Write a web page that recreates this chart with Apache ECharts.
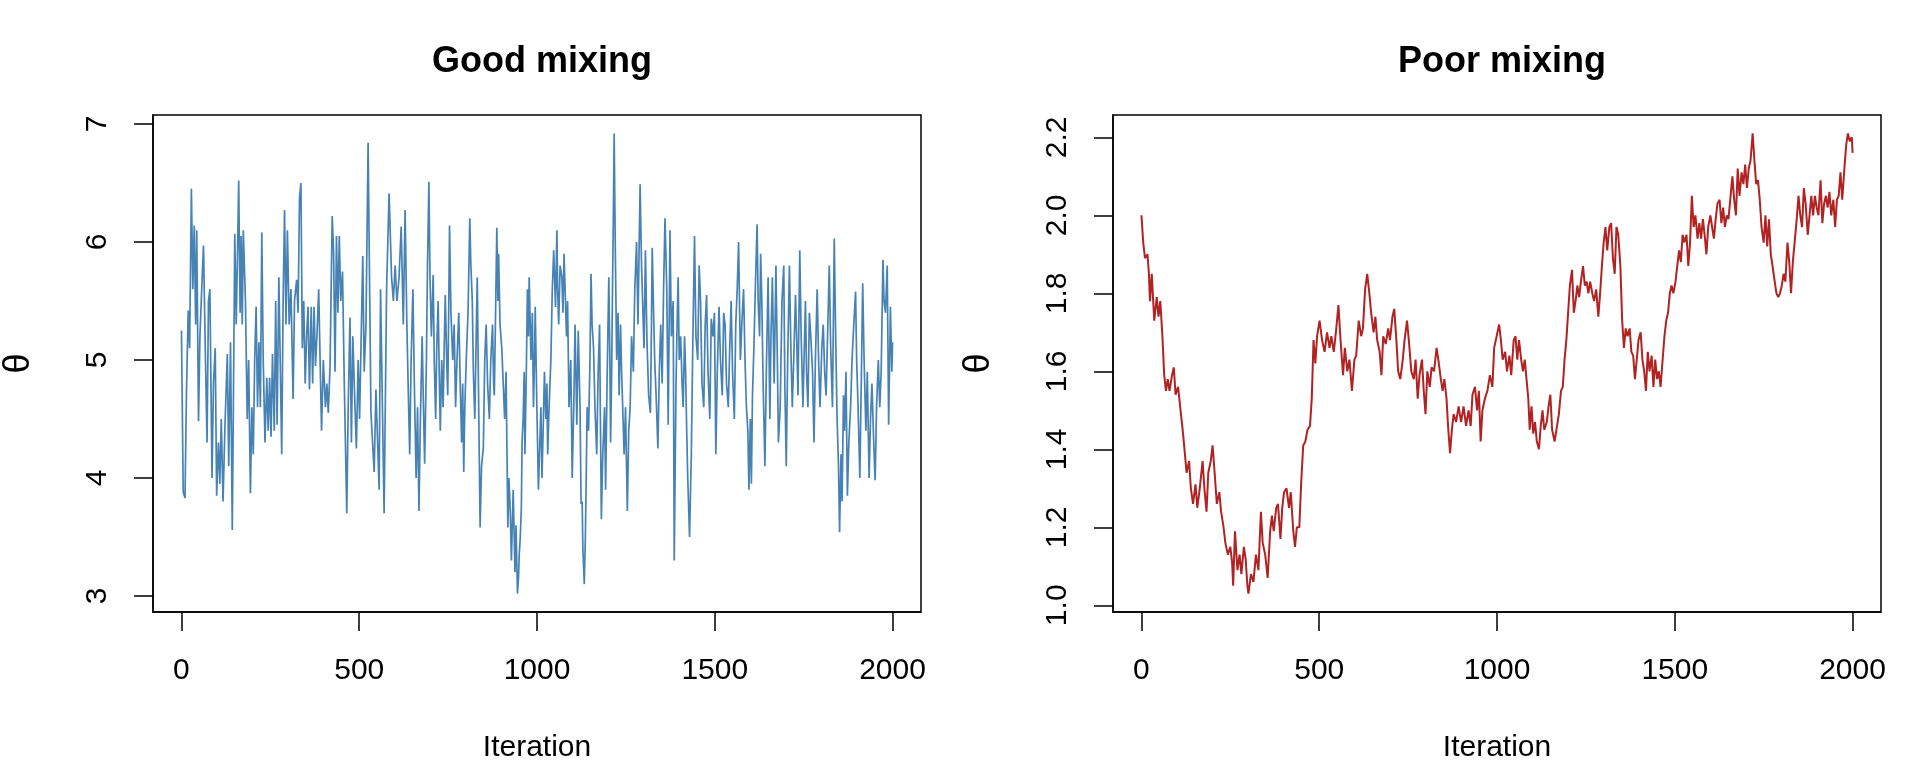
<!DOCTYPE html>
<html>
<head>
<meta charset="utf-8">
<script src="https://cdn.jsdelivr.net/npm/echarts@6/dist/echarts.min.js"></script>
<style>
html,body{margin:0;padding:0;background:#fff;}
#chart{width:1920px;height:768px;}
</style>
</head>
<body>
<div id="chart"></div>
<script>
// ---- Data ----
const panelTitles = ['Good mixing', 'Poor mixing'];
const xAxisTitle = 'Iteration';
const yAxisTitle = 'θ';
const xTicks = [0, 500, 1000, 1500, 2000];
const goodYTicks = [3, 4, 5, 6, 7];
const poorYTicks = [1.0, 1.2, 1.4, 1.6, 1.8, 2.0, 2.2];

const goodIter = [0,5,10,14,19,23,28,32,36,40,43,48,52,57,62,67,72,76,80,86,90,95,99,104,108,112,117,122,129,133,138,143,146,150,154,158,161,165,168,171,174,180,185,189,194,198,202,206,210,214,218,222,226,230,235,240,244,248,252,256,261,265,269,274,282,286,290,294,298,303,308,314,318,324,328,332,336,340,344,348,352,356,360,365,369,373,377,381,386,394,399,405,409,413,418,424,428,432,436,440,444,448,453,458,465,469,474,478,482,487,492,497,501,510,514,519,525,530,533,542,547,556,560,565,570,577,584,591,596,601,606,612,618,624,629,634,
639,642,646,651,655,660,664,668,672,677,680,684,689,692,696,699,703,708,711,715,718,722,725,728,732,736,739,742,746,749,752,754,758,763,767,771,775,780,784,788,791,794,797,801,806,811,814,818,821,825,829,832,836,840,844,849,853,857,861,866,870,875,878,880,884,887,890,892,896,901,905,909,913,918,921,925,928,933,938,941,945,948,950,953,956,958,961,964,966,970,973,976,978,981,983,987,990,993,995,999,1004,1008,1011,1014,1018,1021,1025,1028,1030,1034,1039,1043,1047,1052,1056,1058,1061,1065,1070,1073,1076,1080,1083,1086,1090,1095,1099,1104,1107,1112,1116,1121,1124,1127,1129,1133,1136,1138,1141,1145,1149,1152,1155,1159,1163,1168,1172,1176,1178,1181,1185,1190,1193,1197,1202,1205,1207,1210,1212,1215,1217,1220,1224,1228,1231,1235,1238,1242,1245,1249,1254,1258,1262,1266,1271,1275,1280,1284,1287,1290,1294,1297,1301,1305,1309,1314,1319,1322,1324,1328,1331,1335,1340,1344,1348,1352,1356,1360,1365,1369,1372,1374,1378,1383,1386,1391,1394,1397,1400,1404,1408,1411,1415,1418,1421,1424,1429,1434,1438,
1443,1447,1452,1456,1460,1464,1469,1473,1477,1481,1486,1490,1495,1499,1503,1507,1512,1516,1521,1525,1529,1533,1538,1542,1546,1550,1555,1559,1563,1567,1572,1576,1581,1585,1589,1593,1596,1600,1603,1606,1610,1614,1619,1622,1626,1629,1632,1636,1641,1645,1650,1655,1658,1662,1667,1672,1676,1679,1684,1689,1694,1697,1701,1705,1710,1714,1718,1722,1727,1731,1734,1739,1743,1748,1751,1755,1758,1762,1766,1770,1775,1779,1783,1788,1792,1796,1801,1805,1809,1813,1818,1822,1826,1831,1836,1840,1844,1848,1851,1855,1858,1862,1865,1869,1873,1877,1882,1886,1891,1896,1899,1903,1908,1912,1916,1920,1925,1929,1934,1938,1942,1947,1951,1955,1960,1964,1968,1973,1976,1980,1985,1989,1994,1998,2000];
const goodTheta = [5.25,3.88,3.83,4.7,5.42,5.1,6.45,5.6,6.14,5.3,6.1,4.48,5.2,5.6,5.97,5.1,4.3,5.5,5.6,4.0,4.8,5.1,3.85,4.3,3.95,4.5,3.8,4.4,5.05,4.1,5.15,3.56,4.6,6.07,5.3,5.95,6.52,5.4,6.05,5.3,6.1,5.5,4.5,5.0,3.87,4.6,4.2,5.0,5.45,4.6,5.15,4.6,6.08,5.0,4.3,4.85,4.4,4.85,4.35,5.05,4.4,5.5,4.45,5.7,4.2,5.5,6.27,5.3,6.1,5.3,5.6,4.67,5.5,5.68,5.4,6.37,6.5,5.1,5.5,4.8,5.2,5.45,4.75,5.45,4.8,5.45,4.95,5.2,5.6,4.4,5.0,4.6,4.8,4.55,4.95,6.22,5.9,4.9,6.05,5.4,6.05,5.5,5.75,4.8,3.7,4.6,5.36,4.3,5.2,4.7,4.25,5.0,4.5,5.88,4.9,5.3,6.84,5.4,4.55,4.05,4.75,3.9,5.6,5.6,3.7,5.6,6.41,5.7,5.5,5.8,5.5,5.7,6.13,5.3,6.27,5.3,
4.6,4.2,5.0,5.6,4.8,4.0,4.6,3.72,4.5,5.2,4.7,4.12,5.0,5.8,6.51,5.7,5.2,5.72,5.0,4.5,5.1,5.5,4.9,4.4,5.0,4.6,5.1,5.55,5.0,4.7,5.5,6.14,5.4,5.0,5.3,4.6,5.0,5.4,4.8,4.3,4.8,4.05,4.6,5.0,5.4,6.2,5.8,5.5,4.9,4.5,5.2,5.7,4.6,3.58,4.1,4.25,5.0,5.3,4.8,4.5,5.0,5.3,4.8,4.7,5.5,6.12,5.5,5.9,5.3,5.1,4.8,4.5,4.9,3.58,4.0,3.7,3.3,3.9,3.2,3.6,3.02,3.15,3.35,3.5,3.75,4.3,4.5,4.9,4.2,4.9,5.6,5.2,5.7,5.3,5.0,5.4,4.6,5.0,5.45,4.7,3.9,4.3,4.6,4.0,4.5,4.9,4.5,4.8,4.2,4.6,5.0,5.6,5.93,5.45,6.1,5.6,5.3,5.8,5.7,5.4,5.9,5.5,5.2,5.5,4.6,5.0,4.0,4.7,5.3,4.45,5.25,4.6,3.78,3.8,3.4,3.1,3.5,3.9,4.6,4.4,5.0,5.73,5.3,5.1,4.6,4.2,4.9,5.3,4.6,3.65,4.2,4.6,3.9,4.8,5.7,5.0,4.3,4.9,5.5,6.3,6.92,6.0,5.0,5.4,4.7,5.3,4.9,4.5,4.2,4.6,3.72,4.4,4.6,5.2,4.9,5.6,6.0,5.3,5.9,6.49,5.8,5.5,5.1,5.93,5.2,4.7,4.55,5.3,5.95,5.4,5.0,4.7,4.25,4.9,5.3,4.8,5.6,6.2,5.6,4.45,5.4,6.1,5.2,5.5,3.3,4.8,5.3,5.7,5.0,5.2,4.8,4.6,5.2,4.9,4.4,4.0,3.5,4.2,5.1,
6.05,5.2,5.0,5.8,5.5,4.8,4.6,5.3,5.55,4.9,4.5,5.35,5.2,5.4,4.2,4.9,5.45,5.0,4.7,5.4,5.3,4.8,4.6,5.1,5.5,4.9,4.5,5.3,5.6,6.0,5.0,5.3,5.6,5.0,4.6,4.4,3.9,4.5,3.95,4.7,5.1,5.6,6.15,5.5,5.2,5.9,5.55,4.8,4.1,4.9,5.7,4.5,5.2,5.7,4.8,5.8,5.0,4.3,4.6,5.5,5.8,4.8,4.1,5.0,5.8,5.1,4.6,5.0,5.55,5.1,4.7,5.93,5.2,4.6,5.0,5.5,4.9,4.6,5.4,5.2,4.9,4.3,5.0,5.6,5.0,4.6,5.1,5.3,4.9,4.7,5.3,5.8,5.1,4.6,6.03,5.2,4.5,4.1,3.54,4.2,3.8,4.7,4.4,4.9,3.85,4.3,4.6,5.0,5.3,5.58,5.0,4.6,4.0,4.8,5.65,5.0,4.4,4.9,4.0,4.5,4.8,4.3,3.98,4.6,5.0,4.6,4.9,5.85,5.5,5.4,5.8,4.45,5.45,4.9,5.15];

const poorIter = [0,5,10,17,21,24,29,36,43,48,53,59,64,69,74,79,86,91,96,103,110,117,122,127,134,139,145,152,157,164,172,177,183,188,195,200,205,212,219,224,231,236,243,250,255,258,263,270,276,281,288,293,298,301,308,315,322,329,336,341,348,355,362,367,372,379,384,391,396,401,408,415,420,427,432,437,444,449,455,461,467,474,479,484,489,494,501,508,515,522,529,534,541,548,554,560,567,572,579,585,592,599,604,611,618,623,629,635,641,646,653,658,663,670,675,680,687,694,699,706,711,717,722,728,735,740,747,752,759,766,771,777,782,789,794,799,804,811,816,823,830,835,842,847,852,858,863,868,873,878,885,892,899,906,913,920,926,931,938,944,949,954,959,966,973,980,987,992,999,1006,1011,1016,1023,1028,1035,1040,1047,1052,1057,1062,1068,1073,1078,1083,1088,1092,1097,1102,1107,1112,1118,1123,1128,1133,1140,1145,1150,1155,1162,1167,1174,1180,1185,1190,1195,1200,1205,1211,1216,1221,1226,1231,1236,1242,1247,1252,1257,1262,1268,1273,1279,1285,1290,1295,1300,1305,1310,1316,1321,1326,1331,1336,1341,1347,1352,1357,1362,1367,1373,1378,1383,1388,1393,1398,1404,1409,1414,1419,1424,1429,1435,1440,1445,1450,1455,1460,1465,1471,1476,1481,1486,1491,1496,1502,1507,1512,1517,1522,1527,1533,1538,1543,1548,1553,1558,1564,1569,1574,1579,1584,1589,1594,1600,1605,1610,1615,1620,1626,1631,1636,1641,1646,1651,1657,1662,1667,1672,1677,1682,1688,1693,1698,1703,1708,1713,1719,1724,1729,1734,1739,1744,1750,1755,1760,1765,1770,1775,1781,1786,1791,1796,1801,1806,1811,1817,1822,1827,1832,1837,1842,1848,1853,1858,1863,1868,1874,1879,1884,1889,1894,1899,1904,1910,1915,1920,1925,1930,1935,1940,1946,1951,1956,1961,1966,1971,1977,1982,1987,1992,1998,2000];
const poorTheta = [2.00,1.93,1.89,1.90,1.85,1.78,1.85,1.73,1.79,1.74,1.78,1.69,1.59,1.55,1.58,1.55,1.59,1.61,1.54,1.56,1.50,1.44,1.39,1.34,1.37,1.30,1.26,1.31,1.25,1.30,1.37,1.30,1.24,1.34,1.37,1.41,1.35,1.26,1.29,1.24,1.20,1.16,1.13,1.15,1.11,1.05,1.19,1.09,1.13,1.08,1.15,1.12,1.05,1.03,1.08,1.06,1.13,1.09,1.24,1.16,1.13,1.07,1.19,1.23,1.19,1.25,1.26,1.17,1.25,1.29,1.30,1.25,1.29,1.19,1.15,1.20,1.20,1.31,1.41,1.42,1.45,1.46,1.53,1.68,1.62,1.69,1.73,1.68,1.65,1.70,1.66,1.69,1.65,1.71,1.77,1.68,1.59,1.66,1.60,1.63,1.55,1.63,1.64,1.73,1.69,1.71,1.81,1.85,1.80,1.75,1.70,1.74,1.68,1.65,1.59,1.69,1.67,1.71,1.68,1.74,1.76,1.68,1.60,1.58,1.63,1.68,1.73,1.68,1.60,1.58,1.63,1.53,1.59,1.63,1.55,1.49,1.60,1.56,1.61,1.60,1.66,1.63,1.58,1.55,1.58,1.53,1.45,1.39,1.45,1.49,1.47,1.51,1.47,1.51,1.46,1.50,1.46,1.54,1.56,1.50,1.55,1.42,1.50,1.53,1.55,1.59,1.56,1.66,1.69,1.72,1.68,1.63,1.65,1.60,1.64,1.59,1.68,1.69,1.63,1.68,1.63,1.60,1.63,1.58,1.53,1.45,1.51,1.44,1.47,1.42,1.40,1.46,1.50,1.45,1.47,1.51,1.54,1.45,1.42,1.45,1.49,1.55,1.56,1.63,1.68,1.75,1.82,1.86,1.75,1.78,1.82,1.79,1.83,1.87,1.82,1.83,1.80,1.83,1.80,1.78,1.81,1.74,1.80,1.87,1.93,1.97,1.91,1.97,1.98,1.89,1.85,1.97,1.95,1.87,1.73,1.66,1.71,1.69,1.71,1.65,1.64,1.58,1.63,1.68,1.70,1.63,1.60,1.55,1.65,1.60,1.64,1.56,1.63,1.58,1.60,1.56,1.62,1.69,1.73,1.75,1.80,1.82,1.80,1.83,1.83,1.91,1.88,1.95,1.93,1.95,1.87,1.93,2.05,1.97,2.00,1.94,1.98,1.94,1.99,1.95,1.90,1.97,2.00,1.97,1.94,1.99,2.03,2.04,1.98,2.02,1.97,2.00,1.99,2.05,2.10,2.04,2.00,2.12,2.05,2.11,2.08,2.13,2.07,2.12,2.14,2.21,2.14,2.08,2.09,2.04,1.97,1.93,2.00,1.92,1.99,1.90,1.87,1.83,1.80,1.79,1.80,1.82,1.85,1.83,1.93,1.88,1.80,1.88,1.93,1.98,2.05,2.00,1.97,2.07,2.03,1.95,2.00,2.05,2.00,2.05,2.02,2.00,2.09,1.98,2.03,2.05,2.02,2.06,2.00,2.04,1.97,2.04,2.05,2.11,2.04,2.12,2.18,2.21,2.19,2.20,2.16];

// ---- Helpers ----
function zip(xs, ys) { return xs.map((x, i) => [x, ys[i]]); }
// R-style axis range: data range extended by 4% on each side
function rRange(vals) {
  const lo = Math.min(...vals), hi = Math.max(...vals), pad = (hi - lo) * 0.04;
  return [lo - pad, hi + pad];
}

const FONT = "'Liberation Sans', Arial, Helvetica, sans-serif";
const grids = [
  { left: 153, top: 115, width: 768, height: 499 },
  { left: 1113, top: 115, width: 768, height: 499 }
];
const yTickSets = [goodYTicks, poorYTicks];
const yFormat = [v => String(Math.round(v)), v => v.toFixed(1)];
const series = [zip(goodIter, goodTheta), zip(poorIter, poorTheta)];
const colors = ['#4682B4', '#B22222'];
const xr = rRange(goodIter);
const yRanges = [rRange(goodTheta), rRange(poorTheta)];

const option = {
  animation: false,
  backgroundColor: '#ffffff',
  title: panelTitles.map((t, i) => ({
    text: t,
    left: grids[i].left + grids[i].width / 2,
    top: 39,
    textAlign: 'center',
    textStyle: { fontFamily: FONT, fontWeight: 'bold', fontSize: 36, color: '#000' }
  })),
  grid: grids.map(g => Object.assign({ show: true, borderColor: '#000', borderWidth: 1.5, backgroundColor: 'transparent' }, g)),
  xAxis: grids.map((g, i) => ({
    type: 'value', gridIndex: i, min: xr[0], max: xr[1],
    name: xAxisTitle, nameLocation: 'middle', nameGap: 121,
    nameTextStyle: { fontFamily: FONT, fontSize: 30, color: '#000' },
    axisLine: { show: true, onZero: false, lineStyle: { color: '#000', width: 1.5 } },
    axisTick: { show: true, length: 19, customValues: xTicks, lineStyle: { color: '#000', width: 1.5 } },
    axisLabel: { customValues: xTicks, margin: 44, fontFamily: FONT, fontSize: 30, color: '#000', formatter: v => String(v) },
    splitLine: { show: false }
  })),
  yAxis: grids.map((g, i) => ({
    type: 'value', gridIndex: i, min: yRanges[i][0], max: yRanges[i][1],
    name: yAxisTitle, nameLocation: 'middle', nameGap: 116, nameRotate: 90,
    nameTextStyle: { fontFamily: FONT, fontSize: 36, color: '#000' },
    axisLine: { show: true, onZero: false, lineStyle: { color: '#000', width: 1.5 } },
    axisTick: { show: true, length: 19, customValues: yTickSets[i], lineStyle: { color: '#000', width: 1.5 } },
    axisLabel: { customValues: yTickSets[i], rotate: 90, margin: 40, fontFamily: FONT, fontSize: 30, color: '#000', formatter: yFormat[i] },
    splitLine: { show: false }
  })),
  series: series.map((d, i) => ({
    type: 'line', xAxisIndex: i, yAxisIndex: i, data: d,
    showSymbol: false, symbol: 'none',
    lineStyle: { color: colors[i], width: i === 0 ? 1.7 : 2 },
    itemStyle: { color: colors[i] }
  }))
};

const chart = echarts.init(document.getElementById('chart'), null, { renderer: 'canvas' });
chart.setOption(option);
</script>
</body>
</html>
